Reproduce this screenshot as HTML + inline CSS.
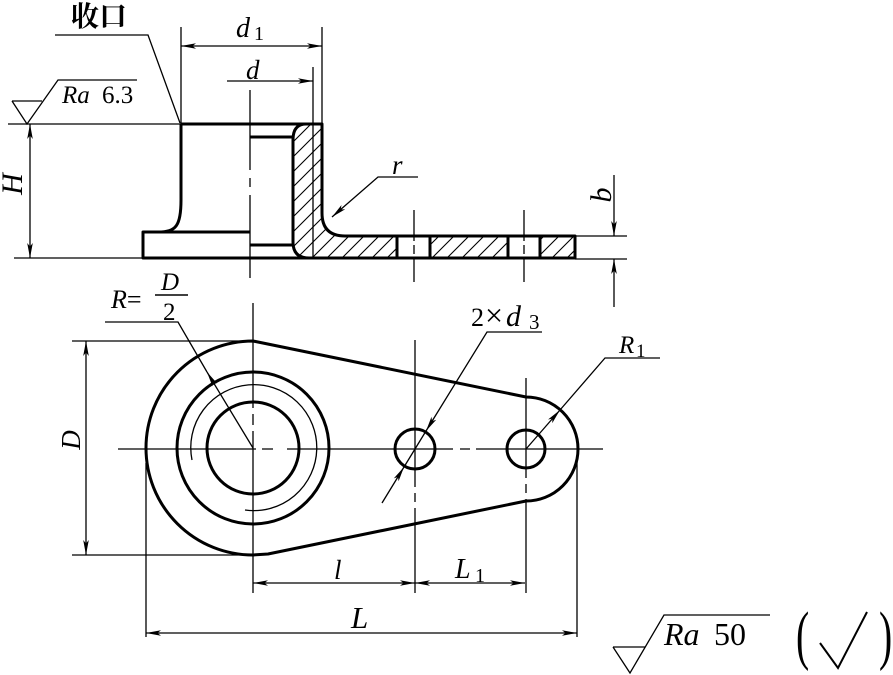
<!DOCTYPE html>
<html><head><meta charset="utf-8"><style>
html,body{margin:0;padding:0;background:#fff;}
svg{display:block;}
text{font-family:"Liberation Serif","Noto Serif CJK SC",serif;fill:#000;}
.i{font-style:italic;}
</style></head><body>
<svg width="893" height="675" viewBox="0 0 893 675" xmlns="http://www.w3.org/2000/svg">
<defs>
<marker id="ar" viewBox="0 0 15 6" refX="15" refY="3" markerWidth="15" markerHeight="6" orient="auto-start-reverse" markerUnits="userSpaceOnUse"><path d="M0,0.2 L15,3 L0,5.8 L3.5,3 Z" fill="#000"/></marker>
<pattern id="h" patternUnits="userSpaceOnUse" width="15" height="15"><path d="M0,15 L15,0 M-3,3 L3,-3 M12,18 L18,12" stroke="#000" stroke-width="1.1" fill="none"/></pattern>
</defs>
<rect width="893" height="675" fill="#fff"/>

<!-- thin lines -->
<g stroke="#000" fill="none" stroke-width="1.3">
  <path d="M8 124 H181"/>
  <path d="M12 101 H42 M12 101 L27 124 L58 80 H137"/>
  <path d="M55 35 H148 L180 123"/>
  <path d="M181 27 V124 M322 27 V124 M313 67 V258"/>
  <path d="M181 46 H322" marker-start="url(#ar)" marker-end="url(#ar)"/>
  <path d="M227 81 H313" marker-end="url(#ar)"/>
  <path d="M30 124 V258" marker-start="url(#ar)" marker-end="url(#ar)"/>
  <path d="M14 258 H143"/>
  <path d="M250 90 V170 M250 178 V187 M250 195 V278"/>
  <path d="M414 210 V241 M414 245 V254 M414 259 V282"/>
  <path d="M524 210 V241 M524 245 V254 M524 259 V282"/>
  <path d="M418 177 H378 L332 217" marker-end="url(#ar)"/>
  <path d="M614 175 V236" marker-end="url(#ar)"/>
  <path d="M614 307 V259" marker-end="url(#ar)"/>
  <path d="M575 236 H627 M575 259 H627"/>

  <!-- bottom view thin -->
  <path d="M72 341 H253 M72 555 H253"/>
  <path d="M86 341 V555" marker-start="url(#ar)" marker-end="url(#ar)"/>
  <path d="M105 322 H178 L207 372"/>
  <path d="M253 448 L207 372" marker-end="url(#ar)"/>
  <path d="M118 449 H256 M262 449 H273 M287 449 H453 M460 449 H470 M476 449 H603"/>
  <path d="M253 303 V408 M253 414 V425 M253 431 V593"/>
  <path d="M415 340 V487 M415 493 V502 M415 508 V593"/>
  <path d="M526 378 V478 M526 484 V493 M526 499 V593"/>
  <path d="M192 460 A63 63 0 1 1 245 510"/>
  <path d="M542 332 H487 L426 431" marker-end="url(#ar)"/>
  <path d="M426 431 L404 467"/>
  <path d="M382 503 L404 467" marker-end="url(#ar)"/>
  <path d="M660 358 H605 L560 410"/>
  <path d="M526 449 L560 410" marker-end="url(#ar)"/>
  <path d="M253 583 H415" marker-start="url(#ar)" marker-end="url(#ar)"/>
  <path d="M415 583 H525" marker-start="url(#ar)" marker-end="url(#ar)"/>
  <path d="M146 633 H577" marker-start="url(#ar)" marker-end="url(#ar)"/>
  <path d="M146 463 V637 M577 460 V637"/>
  <path d="M613 647 H645 M613 647 L630 673 L664 615 H770"/>
  <path d="M820 643 L838 668 L867 612" stroke-width="2"/>
  <path d="M155 295 H188" stroke-width="1.5"/>
</g>

<!-- hatch fills -->
<path d="M306 124 H322 V213 Q322 236 345 236 H397 V258 H309 Q293 258 293 242 V140 Q293 124 306 124 Z" fill="url(#h)"/>
<rect x="430" y="236" width="78" height="22" fill="url(#h)"/>
<rect x="540" y="236" width="35" height="22" fill="url(#h)"/>

<!-- thick lines -->
<g stroke="#000" fill="none" stroke-width="3" stroke-linejoin="round">
  <path d="M181 124 H322"/>
  <path d="M181 124 V200 C181 226 176 232 158 232 H143 V258 H575 V236 H345"/>
  <path d="M143 232 H250"/>
  <path d="M250 137 H293 M250 245 H293"/>
  <path d="M306 124 H322 V213 Q322 236 345 236 H397 V258 H309 Q293 258 293 242 V140 Q293 124 306 124 Z"/>
  <path d="M430 236 V258 M508 236 V258 M540 236 V258"/>
  <path d="M253 341 L526 397 A52 52 0 0 1 526 501 L268 554 L253 555 A107 107 0 0 1 253 341 Z"/>
  <circle cx="253" cy="448" r="76"/>
  <circle cx="253" cy="448" r="46"/>
  <circle cx="415" cy="449" r="20"/>
  <circle cx="526" cy="449" r="19"/>
</g>

<!-- texts -->
<text x="71" y="26" font-size="28" font-weight="bold">收口</text>
<text x="236" y="37" font-size="28" class="i">d</text>
<text x="254" y="40" font-size="20">1</text>
<text x="246" y="79" font-size="27" class="i">d</text>
<text x="62" y="103" font-size="25" class="i">Ra</text>
<text x="102" y="103" font-size="25">6.3</text>
<text transform="translate(22,184) rotate(-90)" text-anchor="middle" font-size="30" class="i">H</text>
<text x="392" y="174" font-size="27" class="i">r</text>
<text transform="translate(611,195) rotate(-90)" text-anchor="middle" font-size="30" class="i">b</text>

<text x="111" y="308" font-size="26"><tspan class="i">R</tspan>=</text>
<text x="161" y="290" font-size="25" class="i">D</text>
<text x="163" y="320" font-size="25">2</text>
<text transform="translate(80,440) rotate(-90)" text-anchor="middle" font-size="27" class="i">D</text>
<text x="471" y="326" font-size="26">2</text>
<text x="485" y="326" font-size="32">×</text>
<text x="506" y="326" font-size="30" class="i">d</text>
<text x="529" y="329" font-size="21">3</text>
<text x="619" y="353" font-size="25" class="i">R</text>
<text x="636" y="357" font-size="19">1</text>
<text x="334" y="579" font-size="27" class="i">l</text>
<text x="455" y="578" font-size="28" class="i">L</text>
<text x="475" y="582" font-size="20">1</text>
<text x="351" y="628" font-size="31" class="i">L</text>
<text x="664" y="645" font-size="32" class="i">Ra</text>
<text x="714" y="645" font-size="32">50</text>
<text transform="translate(796,657) scale(0.6,1)" font-size="66">(</text>
<text transform="translate(879,657) scale(0.6,1)" font-size="66">)</text>
</svg>
</body></html>
